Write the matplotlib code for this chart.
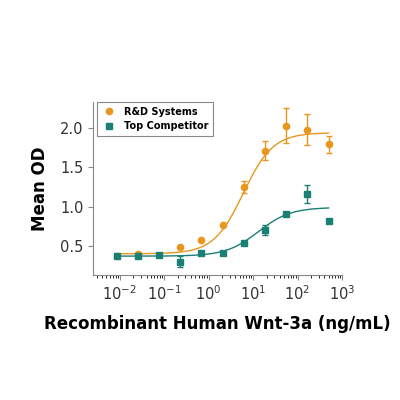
import numpy as np
import matplotlib
matplotlib.use("Agg")
import matplotlib.pyplot as plt
from matplotlib.lines import Line2D

conc = [0.0085, 0.025, 0.076, 0.229, 0.686, 2.06, 6.17, 18.5, 55.6, 167, 500]
rd_vals = [0.37, 0.40, None, 0.48, 0.58, 0.76, 1.25, 1.71, 2.03, 1.98, 1.79]
rd_err = [0, 0, 0, 0, 0, 0, 0.08, 0.12, 0.22, 0.20, 0.11]
tc_vals = [0.37, 0.37, 0.38, 0.30, 0.41, 0.41, 0.54, 0.70, 0.91, 1.16, 0.82]
tc_err = [0, 0, 0, 0.07, 0, 0, 0, 0.06, 0, 0.12, 0]
rd_fit = (0.40, 1.94, 6.0, 1.3)   # bottom, top, EC50, hill
tc_fit = (0.37, 0.99, 13.0, 1.2)

orange = "#E8961E"
teal = "#1A7F74"

def four_pl(x, p):
    b, t, ec, h = p
    return b + (t - b) / (1 + (ec / x) ** h)

fig = plt.figure(figsize=(4, 4), dpi=100)
ax = fig.add_axes([0.233, 0.3125, 0.622, 0.4325])
xs = np.logspace(np.log10(0.0085), np.log10(500), 300)
ax.plot(xs, four_pl(xs, rd_fit), color=orange, lw=1)
ax.plot(xs, four_pl(xs, tc_fit), color=teal, lw=1)

rx = [c for c, v in zip(conc, rd_vals) if v is not None]
ry = [v for v in rd_vals if v is not None]
re = [e for e, v in zip(rd_err, rd_vals) if v is not None]
ax.errorbar(rx, ry, yerr=re, fmt='o', color=orange, ms=4.5, capsize=2.5, elinewidth=1)
ax.errorbar(conc, tc_vals, yerr=tc_err, fmt='s', color=teal, ms=4, capsize=2.5, elinewidth=1)

ax.set_xscale('log')
ax.set_xlim(10**-2.6, 1e3)
ax.set_ylim(0.13, 2.33)
ax.set_yticks([0.5, 1.0, 1.5, 2.0])
ax.set_xticks([1e-2, 1e-1, 1e0, 1e1, 1e2, 1e3])
ax.spines['top'].set_visible(False)
ax.spines['right'].set_visible(False)
for s in ['left', 'bottom']:
    ax.spines[s].set_color('#888888')
ax.tick_params(colors='#888888', labelcolor='#333333', labelsize=10.5)
ax.set_xlabel("Recombinant Human Wnt-3a (ng/mL)", fontsize=12, fontweight='bold', labelpad=8)
ax.set_ylabel("Mean OD", fontsize=12, fontweight='bold', labelpad=8)
handles = [Line2D([], [], ls='none', marker='o', color=orange, ms=4.5),
           Line2D([], [], ls='none', marker='s', color=teal, ms=4)]
leg = ax.legend(handles, ["R&D Systems", "Top Competitor"], loc='upper left',
                bbox_to_anchor=(-0.005, 1.03), prop={'weight': 'bold', 'size': 7},
                handletextpad=0.8, borderpad=0.5, handlelength=1.5,
                fancybox=False, edgecolor='#888888', framealpha=1)
leg.get_frame().set_linewidth(0.8)
fig.savefig("out.png", dpi=100)
